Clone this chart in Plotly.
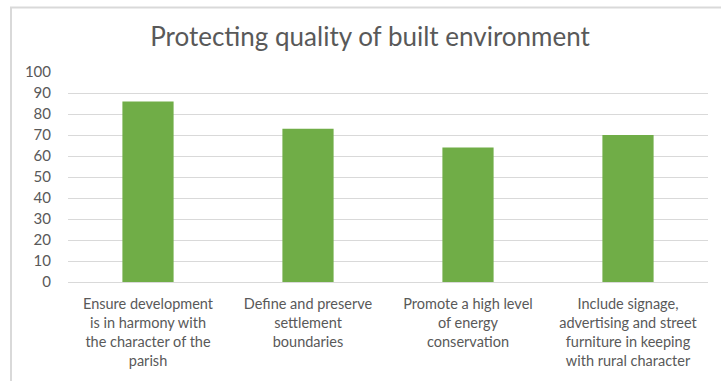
import plotly.graph_objects as go

# Survey results: share of respondents supporting each objective
categories = [
    "Ensure development<br>is in harmony with<br>the character of the<br>parish",
    "Define and preserve<br>settlement<br>boundaries",
    "Promote a high level<br>of energy<br>conservation",
    "Include signage,<br>advertising and street<br>furniture in keeping<br>with rural character",
]
values = [86, 73, 64, 70]
y_ticks = [0, 10, 20, 30, 40, 50, 60, 70, 80, 90, 100]

W, H = 721, 381
L, R, T, B = 68, 13, 72, 97
pw, ph = W - L - R, H - T - B

def px_x(x):
    return (x - L) / pw

def px_y(y):
    return (H - B - y) / ph

fig = go.Figure(
    go.Bar(
        x=categories,
        y=values,
        marker=dict(color="#70AD47", line=dict(width=0)),
        hoverinfo="x+y",
    )
)

fig.update_layout(
    width=W,
    height=H,
    margin=dict(l=L, r=R, t=T, b=B),
    paper_bgcolor="white",
    plot_bgcolor="white",
    bargap=0.68,
    showlegend=False,
    font=dict(family="Lato, Open Sans, sans-serif", color="#595959"),
    title=dict(
        text="Protecting quality of built environment",
        x=370 / W,
        xanchor="center",
        y=1 - 37 / H,
        yanchor="middle",
        font=dict(size=26, color="#595959"),
    ),
    xaxis=dict(
        showgrid=False,
        showline=True,
        linecolor="#D9D9D9",
        linewidth=1,
        ticks="",
        tickfont=dict(size=14.5, color="#595959"),
        ticklabelstandoff=9,
        fixedrange=True,
    ),
    yaxis=dict(
        range=[0, 100],
        tickvals=y_ticks,
        showgrid=True,
        gridcolor="#D9D9D9",
        gridwidth=1,
        zeroline=False,
        showline=False,
        ticks="",
        tickfont=dict(size=15, color="#595959"),
        ticklabelstandoff=16,
        fixedrange=True,
    ),
    shapes=[
        dict(
            type="rect",
            xref="paper",
            yref="paper",
            x0=px_x(11),
            x1=px_x(W + 5),
            y0=px_y(H + 5),
            y1=px_y(7),
            line=dict(color="#D9D9D9", width=2),
            fillcolor="rgba(0,0,0,0)",
            layer="below",
        )
    ],
)

fig.write_html("out.html")
